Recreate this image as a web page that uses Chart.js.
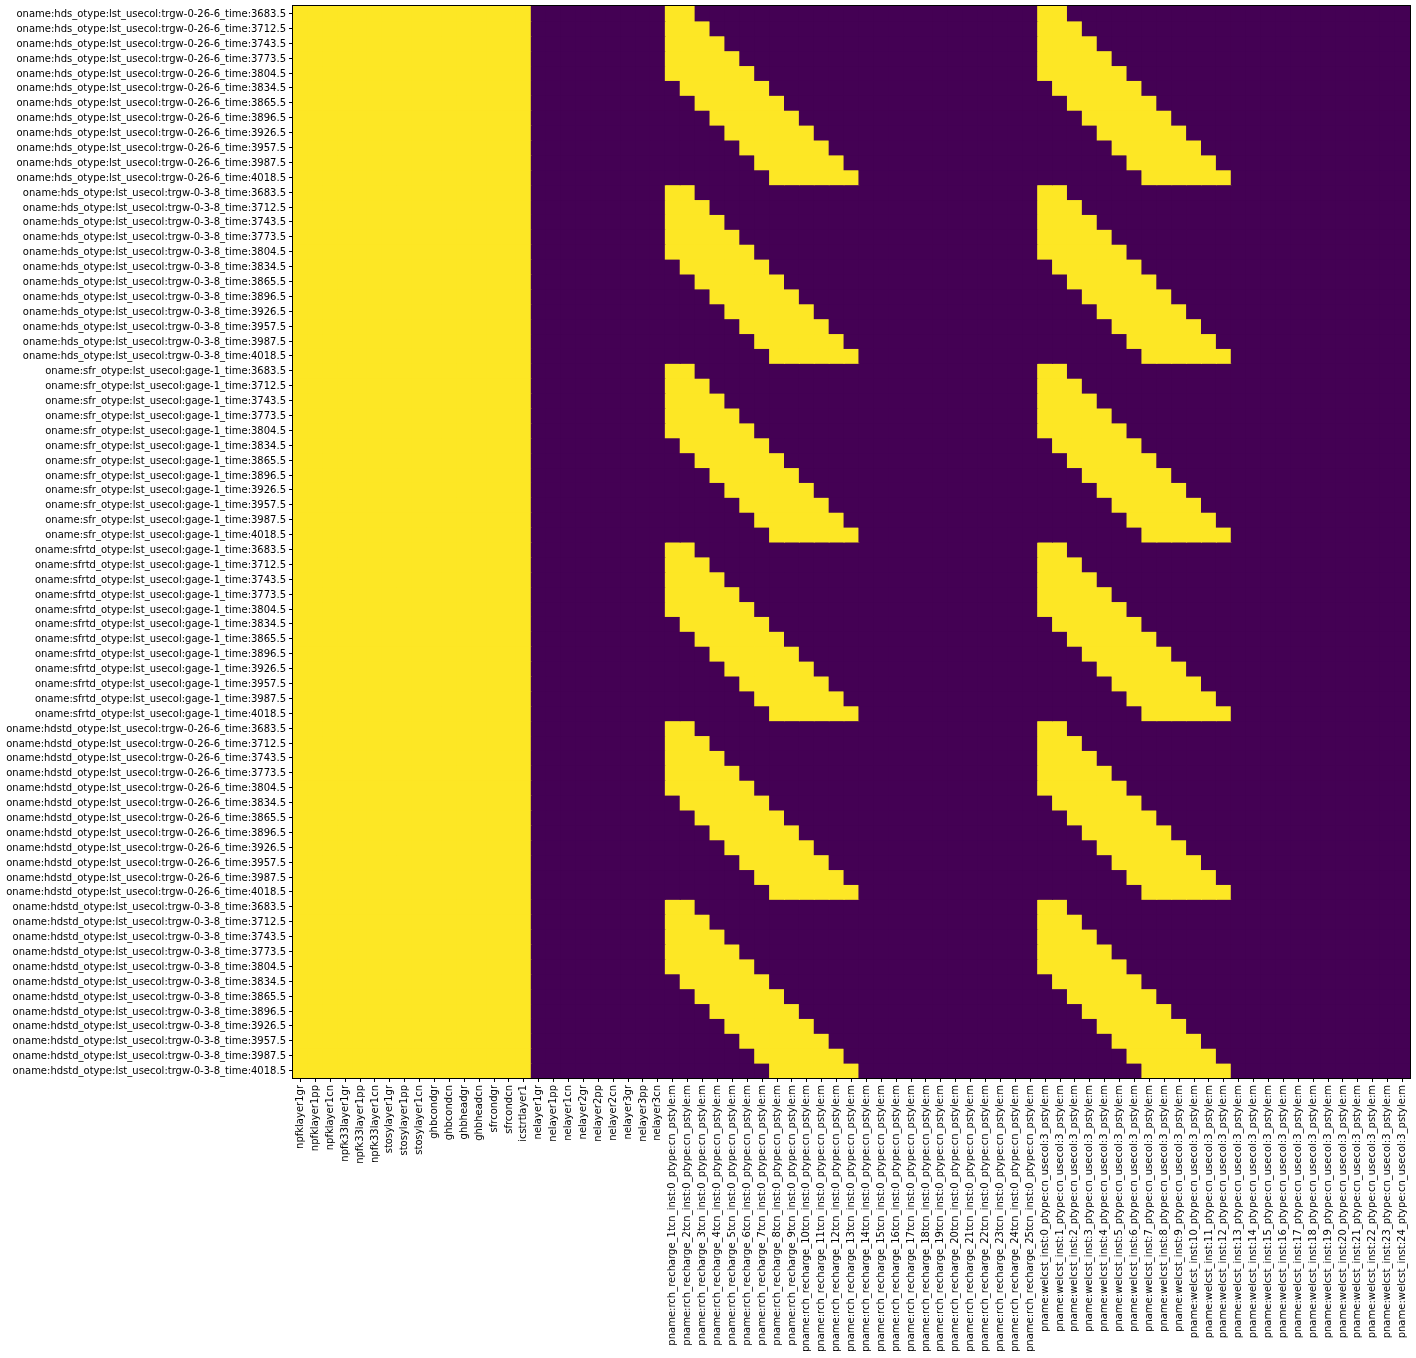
<!DOCTYPE html>
<html>
<head>
<meta charset="utf-8">
<script src="https://cdn.jsdelivr.net/npm/chart.js@4/dist/chart.umd.min.js"></script>
<style>
  html, body { margin: 0; padding: 0; background: #ffffff; }
  #wrap { width: 1416px; height: 1358px; position: relative; }
</style>
</head>
<body>
<div id="wrap"><canvas id="c"></canvas></div>
<script>
// ---------- DATA ----------
const COL_LABELS = [
  "npfklayer1gr","npfklayer1pp","npfklayer1cn","npfk33layer1gr","npfk33layer1pp","npfk33layer1cn",
  "stosylayer1gr","stosylayer1pp","stosylayer1cn","ghbcondgr","ghbcondcn","ghbheadgr","ghbheadcn",
  "sfrcondgr","sfrcondcn","icstrtlayer1",
  "nelayer1gr","nelayer1pp","nelayer1cn","nelayer2gr","nelayer2pp","nelayer2cn","nelayer3gr","nelayer3pp","nelayer3cn",
  "pname:rch_recharge_1tcn_inst:0_ptype:cn_pstyle:m",
  "pname:rch_recharge_2tcn_inst:0_ptype:cn_pstyle:m",
  "pname:rch_recharge_3tcn_inst:0_ptype:cn_pstyle:m",
  "pname:rch_recharge_4tcn_inst:0_ptype:cn_pstyle:m",
  "pname:rch_recharge_5tcn_inst:0_ptype:cn_pstyle:m",
  "pname:rch_recharge_6tcn_inst:0_ptype:cn_pstyle:m",
  "pname:rch_recharge_7tcn_inst:0_ptype:cn_pstyle:m",
  "pname:rch_recharge_8tcn_inst:0_ptype:cn_pstyle:m",
  "pname:rch_recharge_9tcn_inst:0_ptype:cn_pstyle:m",
  "pname:rch_recharge_10tcn_inst:0_ptype:cn_pstyle:m",
  "pname:rch_recharge_11tcn_inst:0_ptype:cn_pstyle:m",
  "pname:rch_recharge_12tcn_inst:0_ptype:cn_pstyle:m",
  "pname:rch_recharge_13tcn_inst:0_ptype:cn_pstyle:m",
  "pname:rch_recharge_14tcn_inst:0_ptype:cn_pstyle:m",
  "pname:rch_recharge_15tcn_inst:0_ptype:cn_pstyle:m",
  "pname:rch_recharge_16tcn_inst:0_ptype:cn_pstyle:m",
  "pname:rch_recharge_17tcn_inst:0_ptype:cn_pstyle:m",
  "pname:rch_recharge_18tcn_inst:0_ptype:cn_pstyle:m",
  "pname:rch_recharge_19tcn_inst:0_ptype:cn_pstyle:m",
  "pname:rch_recharge_20tcn_inst:0_ptype:cn_pstyle:m",
  "pname:rch_recharge_21tcn_inst:0_ptype:cn_pstyle:m",
  "pname:rch_recharge_22tcn_inst:0_ptype:cn_pstyle:m",
  "pname:rch_recharge_23tcn_inst:0_ptype:cn_pstyle:m",
  "pname:rch_recharge_24tcn_inst:0_ptype:cn_pstyle:m",
  "pname:rch_recharge_25tcn_inst:0_ptype:cn_pstyle:m",
  "pname:welcst_inst:0_ptype:cn_usecol:3_pstyle:m",
  "pname:welcst_inst:1_ptype:cn_usecol:3_pstyle:m",
  "pname:welcst_inst:2_ptype:cn_usecol:3_pstyle:m",
  "pname:welcst_inst:3_ptype:cn_usecol:3_pstyle:m",
  "pname:welcst_inst:4_ptype:cn_usecol:3_pstyle:m",
  "pname:welcst_inst:5_ptype:cn_usecol:3_pstyle:m",
  "pname:welcst_inst:6_ptype:cn_usecol:3_pstyle:m",
  "pname:welcst_inst:7_ptype:cn_usecol:3_pstyle:m",
  "pname:welcst_inst:8_ptype:cn_usecol:3_pstyle:m",
  "pname:welcst_inst:9_ptype:cn_usecol:3_pstyle:m",
  "pname:welcst_inst:10_ptype:cn_usecol:3_pstyle:m",
  "pname:welcst_inst:11_ptype:cn_usecol:3_pstyle:m",
  "pname:welcst_inst:12_ptype:cn_usecol:3_pstyle:m",
  "pname:welcst_inst:13_ptype:cn_usecol:3_pstyle:m",
  "pname:welcst_inst:14_ptype:cn_usecol:3_pstyle:m",
  "pname:welcst_inst:15_ptype:cn_usecol:3_pstyle:m",
  "pname:welcst_inst:16_ptype:cn_usecol:3_pstyle:m",
  "pname:welcst_inst:17_ptype:cn_usecol:3_pstyle:m",
  "pname:welcst_inst:18_ptype:cn_usecol:3_pstyle:m",
  "pname:welcst_inst:19_ptype:cn_usecol:3_pstyle:m",
  "pname:welcst_inst:20_ptype:cn_usecol:3_pstyle:m",
  "pname:welcst_inst:21_ptype:cn_usecol:3_pstyle:m",
  "pname:welcst_inst:22_ptype:cn_usecol:3_pstyle:m",
  "pname:welcst_inst:23_ptype:cn_usecol:3_pstyle:m",
  "pname:welcst_inst:24_ptype:cn_usecol:3_pstyle:m"
];

const ROW_GROUPS = [
  "oname:hds_otype:lst_usecol:trgw-0-26-6",
  "oname:hds_otype:lst_usecol:trgw-0-3-8",
  "oname:sfr_otype:lst_usecol:gage-1",
  "oname:sfrtd_otype:lst_usecol:gage-1",
  "oname:hdstd_otype:lst_usecol:trgw-0-26-6",
  "oname:hdstd_otype:lst_usecol:trgw-0-3-8"
];
const ROW_TIMES = ["3683.5","3712.5","3743.5","3773.5","3804.5","3834.5","3865.5","3896.5","3926.5","3957.5","3987.5","4018.5"];
const ROW_LABELS = [];
ROW_GROUPS.forEach(g => ROW_TIMES.forEach(t => ROW_LABELS.push(g + "_time:" + t)));

// cell values (1 = yellow, 0 = purple); blocks: 16 base | 9 ne | 25 rch | 25 welcst
const MATRIX_ROWS = [
  // hds trgw-0-26-6
  "1111111111111111 000000000 | 11000 00000 00000 00000 00000 | 11000 00000 00000 00000 00000",
  "1111111111111111 000000000 | 11100 00000 00000 00000 00000 | 11100 00000 00000 00000 00000",
  "1111111111111111 000000000 | 11110 00000 00000 00000 00000 | 11110 00000 00000 00000 00000",
  "1111111111111111 000000000 | 11111 00000 00000 00000 00000 | 11111 00000 00000 00000 00000",
  "1111111111111111 000000000 | 11111 10000 00000 00000 00000 | 11111 10000 00000 00000 00000",
  "1111111111111111 000000000 | 01111 11000 00000 00000 00000 | 01111 11000 00000 00000 00000",
  "1111111111111111 000000000 | 00111 11100 00000 00000 00000 | 00111 11100 00000 00000 00000",
  "1111111111111111 000000000 | 00011 11110 00000 00000 00000 | 00011 11110 00000 00000 00000",
  "1111111111111111 000000000 | 00001 11111 00000 00000 00000 | 00001 11111 00000 00000 00000",
  "1111111111111111 000000000 | 00000 11111 10000 00000 00000 | 00000 11111 10000 00000 00000",
  "1111111111111111 000000000 | 00000 01111 11000 00000 00000 | 00000 01111 11000 00000 00000",
  "1111111111111111 000000000 | 00000 00111 11100 00000 00000 | 00000 00111 11100 00000 00000",
  // hds trgw-0-3-8
  "1111111111111111 000000000 | 11000 00000 00000 00000 00000 | 11000 00000 00000 00000 00000",
  "1111111111111111 000000000 | 11100 00000 00000 00000 00000 | 11100 00000 00000 00000 00000",
  "1111111111111111 000000000 | 11110 00000 00000 00000 00000 | 11110 00000 00000 00000 00000",
  "1111111111111111 000000000 | 11111 00000 00000 00000 00000 | 11111 00000 00000 00000 00000",
  "1111111111111111 000000000 | 11111 10000 00000 00000 00000 | 11111 10000 00000 00000 00000",
  "1111111111111111 000000000 | 01111 11000 00000 00000 00000 | 01111 11000 00000 00000 00000",
  "1111111111111111 000000000 | 00111 11100 00000 00000 00000 | 00111 11100 00000 00000 00000",
  "1111111111111111 000000000 | 00011 11110 00000 00000 00000 | 00011 11110 00000 00000 00000",
  "1111111111111111 000000000 | 00001 11111 00000 00000 00000 | 00001 11111 00000 00000 00000",
  "1111111111111111 000000000 | 00000 11111 10000 00000 00000 | 00000 11111 10000 00000 00000",
  "1111111111111111 000000000 | 00000 01111 11000 00000 00000 | 00000 01111 11000 00000 00000",
  "1111111111111111 000000000 | 00000 00111 11100 00000 00000 | 00000 00111 11100 00000 00000",
  // sfr gage-1
  "1111111111111111 000000000 | 11000 00000 00000 00000 00000 | 11000 00000 00000 00000 00000",
  "1111111111111111 000000000 | 11100 00000 00000 00000 00000 | 11100 00000 00000 00000 00000",
  "1111111111111111 000000000 | 11110 00000 00000 00000 00000 | 11110 00000 00000 00000 00000",
  "1111111111111111 000000000 | 11111 00000 00000 00000 00000 | 11111 00000 00000 00000 00000",
  "1111111111111111 000000000 | 11111 10000 00000 00000 00000 | 11111 10000 00000 00000 00000",
  "1111111111111111 000000000 | 01111 11000 00000 00000 00000 | 01111 11000 00000 00000 00000",
  "1111111111111111 000000000 | 00111 11100 00000 00000 00000 | 00111 11100 00000 00000 00000",
  "1111111111111111 000000000 | 00011 11110 00000 00000 00000 | 00011 11110 00000 00000 00000",
  "1111111111111111 000000000 | 00001 11111 00000 00000 00000 | 00001 11111 00000 00000 00000",
  "1111111111111111 000000000 | 00000 11111 10000 00000 00000 | 00000 11111 10000 00000 00000",
  "1111111111111111 000000000 | 00000 01111 11000 00000 00000 | 00000 01111 11000 00000 00000",
  "1111111111111111 000000000 | 00000 00111 11100 00000 00000 | 00000 00111 11100 00000 00000",
  // sfrtd gage-1
  "1111111111111111 000000000 | 11000 00000 00000 00000 00000 | 11000 00000 00000 00000 00000",
  "1111111111111111 000000000 | 11100 00000 00000 00000 00000 | 11100 00000 00000 00000 00000",
  "1111111111111111 000000000 | 11110 00000 00000 00000 00000 | 11110 00000 00000 00000 00000",
  "1111111111111111 000000000 | 11111 00000 00000 00000 00000 | 11111 00000 00000 00000 00000",
  "1111111111111111 000000000 | 11111 10000 00000 00000 00000 | 11111 10000 00000 00000 00000",
  "1111111111111111 000000000 | 01111 11000 00000 00000 00000 | 01111 11000 00000 00000 00000",
  "1111111111111111 000000000 | 00111 11100 00000 00000 00000 | 00111 11100 00000 00000 00000",
  "1111111111111111 000000000 | 00011 11110 00000 00000 00000 | 00011 11110 00000 00000 00000",
  "1111111111111111 000000000 | 00001 11111 00000 00000 00000 | 00001 11111 00000 00000 00000",
  "1111111111111111 000000000 | 00000 11111 10000 00000 00000 | 00000 11111 10000 00000 00000",
  "1111111111111111 000000000 | 00000 01111 11000 00000 00000 | 00000 01111 11000 00000 00000",
  "1111111111111111 000000000 | 00000 00111 11100 00000 00000 | 00000 00111 11100 00000 00000",
  // hdstd trgw-0-26-6
  "1111111111111111 000000000 | 11000 00000 00000 00000 00000 | 11000 00000 00000 00000 00000",
  "1111111111111111 000000000 | 11100 00000 00000 00000 00000 | 11100 00000 00000 00000 00000",
  "1111111111111111 000000000 | 11110 00000 00000 00000 00000 | 11110 00000 00000 00000 00000",
  "1111111111111111 000000000 | 11111 00000 00000 00000 00000 | 11111 00000 00000 00000 00000",
  "1111111111111111 000000000 | 11111 10000 00000 00000 00000 | 11111 10000 00000 00000 00000",
  "1111111111111111 000000000 | 01111 11000 00000 00000 00000 | 01111 11000 00000 00000 00000",
  "1111111111111111 000000000 | 00111 11100 00000 00000 00000 | 00111 11100 00000 00000 00000",
  "1111111111111111 000000000 | 00011 11110 00000 00000 00000 | 00011 11110 00000 00000 00000",
  "1111111111111111 000000000 | 00001 11111 00000 00000 00000 | 00001 11111 00000 00000 00000",
  "1111111111111111 000000000 | 00000 11111 10000 00000 00000 | 00000 11111 10000 00000 00000",
  "1111111111111111 000000000 | 00000 01111 11000 00000 00000 | 00000 01111 11000 00000 00000",
  "1111111111111111 000000000 | 00000 00111 11100 00000 00000 | 00000 00111 11100 00000 00000",
  // hdstd trgw-0-3-8
  "1111111111111111 000000000 | 11000 00000 00000 00000 00000 | 11000 00000 00000 00000 00000",
  "1111111111111111 000000000 | 11100 00000 00000 00000 00000 | 11100 00000 00000 00000 00000",
  "1111111111111111 000000000 | 11110 00000 00000 00000 00000 | 11110 00000 00000 00000 00000",
  "1111111111111111 000000000 | 11111 00000 00000 00000 00000 | 11111 00000 00000 00000 00000",
  "1111111111111111 000000000 | 11111 10000 00000 00000 00000 | 11111 10000 00000 00000 00000",
  "1111111111111111 000000000 | 01111 11000 00000 00000 00000 | 01111 11000 00000 00000 00000",
  "1111111111111111 000000000 | 00111 11100 00000 00000 00000 | 00111 11100 00000 00000 00000",
  "1111111111111111 000000000 | 00011 11110 00000 00000 00000 | 00011 11110 00000 00000 00000",
  "1111111111111111 000000000 | 00001 11111 00000 00000 00000 | 00001 11111 00000 00000 00000",
  "1111111111111111 000000000 | 00000 11111 10000 00000 00000 | 00000 11111 10000 00000 00000",
  "1111111111111111 000000000 | 00000 01111 11000 00000 00000 | 00000 01111 11000 00000 00000",
  "1111111111111111 000000000 | 00000 00111 11100 00000 00000 | 00000 00111 11100 00000 00000"
];
const VALUES = MATRIX_ROWS.map(s => s.replace(/[^01]/g, "").split("").map(Number));

// ---------- STYLE ----------
const YELLOW = "#fde725";
const PURPLE = "#440154";

Chart.defaults.font.family = "'DejaVu Sans', sans-serif";
Chart.defaults.font.size = 10;
Chart.defaults.color = "#000000";

const datasets = VALUES.map((row, r) => ({
  label: ROW_LABELS[r],
  data: row.map(() => [r, r + 1]),
  backgroundColor: row.map(v => (v ? YELLOW : PURPLE)),
  borderWidth: 0,
  barPercentage: 1.0,
  categoryPercentage: 1.0,
  grouped: false,
  inflateAmount: 0.5
}));

const framePlugin = {
  id: "frame",
  afterDraw(chart) {
    const { ctx, chartArea: a } = chart;
    ctx.save();
    ctx.strokeStyle = "#000000";
    ctx.lineWidth = 1;
    ctx.strokeRect(Math.round(a.left) - 0.5, Math.round(a.top) - 0.5,
                   Math.round(a.right - a.left) + 1, Math.round(a.bottom - a.top) + 1);
    ctx.restore();
  }
};

new Chart(document.getElementById("c"), {
  type: "bar",
  data: { labels: COL_LABELS, datasets },
  options: {
    responsive: true,
    maintainAspectRatio: false,
    devicePixelRatio: 1,
    animation: false,
    layout: { padding: { top: 6, right: 6, left: 0, bottom: 0 } },
    plugins: { legend: { display: false }, tooltip: { enabled: false } },
    scales: {
      x: {
        type: "category",
        offset: true,
        grid: { display: true, drawOnChartArea: false, drawTicks: true, tickLength: 4, tickColor: "#000000", tickWidth: 1, offset: false },
        border: { display: false },
        ticks: { autoSkip: false, minRotation: 90, maxRotation: 90, padding: 3, color: "#000000", font: { size: 10 } },
        afterFit(scale) {
          scale.height = 280;
          scale.paddingLeft = 0; scale.paddingRight = 0;
        }
      },
      y: {
        type: "linear",
        reverse: true,
        min: 0,
        max: ROW_LABELS.length,
        grid: { display: true, drawOnChartArea: false, drawTicks: true, tickLength: 4, tickColor: "#000000", tickWidth: 1 },
        border: { display: false },
        afterBuildTicks(scale) { scale.ticks = ROW_LABELS.map((_, i) => ({ value: i + 0.5 })); },
        ticks: { autoSkip: false, padding: 3, labelOffset: 1, color: "#000000", font: { size: 10 }, callback: (v, i) => ROW_LABELS[i] },
        afterFit(scale) {
          scale.width = 293;
          scale.paddingTop = 0; scale.paddingBottom = 0;
        }
      }
    }
  },
  plugins: [framePlugin]
});
</script>
</body>
</html>
